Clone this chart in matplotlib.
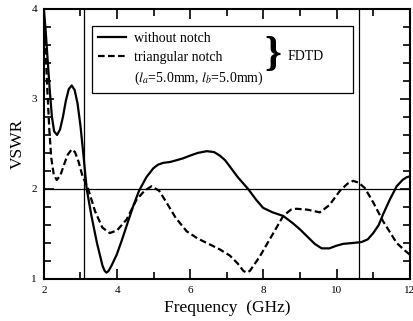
import matplotlib
matplotlib.use("Agg")
import matplotlib.pyplot as plt
from matplotlib.lines import Line2D
from matplotlib.ticker import MultipleLocator

plt.rcParams["font.family"] = ["Liberation Serif", "DejaVu Serif"]
plt.rcParams["mathtext.fontset"] = "stix"

# without notch (FDTD)
freq_solid = [2.0, 2.05, 2.1, 2.16, 2.22, 2.28, 2.36, 2.44, 2.52, 2.6, 2.68, 2.76, 2.84,
              2.92, 3.0, 3.08, 3.17, 3.3, 3.45, 3.6, 3.66, 3.71, 3.77, 3.85, 3.99, 4.13,
              4.26, 4.45, 4.6, 4.8, 4.99, 5.12, 5.26, 5.45, 5.63, 5.8, 5.99, 6.2, 6.45,
              6.65, 6.81, 6.95, 7.08, 7.3, 7.58, 7.8, 7.99, 8.25, 8.54, 8.8, 9.0, 9.2,
              9.4, 9.59, 9.8, 10.0, 10.18, 10.45, 10.68, 10.85, 11.0, 11.15, 11.27, 11.45,
              11.64, 11.8, 11.91, 12.0]
vswr_solid = [4.0, 3.75, 3.45, 3.1, 2.8, 2.64, 2.6, 2.66, 2.8, 2.98, 3.11, 3.15, 3.1,
              2.95, 2.7, 2.38, 2.0, 1.7, 1.4, 1.15, 1.09, 1.07, 1.09, 1.15, 1.27, 1.43,
              1.59, 1.82, 1.98, 2.13, 2.23, 2.27, 2.29, 2.3, 2.32, 2.34, 2.37, 2.4, 2.42,
              2.41, 2.37, 2.32, 2.25, 2.13, 2.0, 1.88, 1.79, 1.74, 1.7, 1.62, 1.55, 1.47,
              1.39, 1.34, 1.34, 1.37, 1.39, 1.4, 1.41, 1.44, 1.51, 1.6, 1.72, 1.88, 2.03,
              2.1, 2.13, 2.14]

# triangular notch (FDTD)
freq_dash = [2.0, 2.05, 2.1, 2.15, 2.2, 2.27, 2.35, 2.45, 2.55, 2.65, 2.76, 2.85, 2.95,
             3.05, 3.21, 3.4, 3.6, 3.8, 4.0, 4.26, 4.53, 4.75, 4.94, 5.15, 5.35, 5.6, 5.9,
             6.2, 6.45, 6.8, 7.08, 7.3, 7.45, 7.54, 7.63, 7.9, 8.17, 8.54, 8.75, 8.9, 9.2,
             9.54, 9.8, 10.09, 10.3, 10.45, 10.6, 10.77, 11.0, 11.27, 11.64, 11.85, 12.0]
vswr_dash = [3.9, 3.5, 3.05, 2.65, 2.35, 2.16, 2.1, 2.15, 2.27, 2.38, 2.44, 2.41, 2.3,
             2.15, 2.0, 1.75, 1.57, 1.51, 1.54, 1.66, 1.88, 1.98, 2.03, 1.98, 1.85, 1.68,
             1.53, 1.45, 1.40, 1.33, 1.26, 1.17, 1.09, 1.07, 1.09, 1.25, 1.44, 1.7, 1.77,
             1.78, 1.77, 1.74, 1.82, 1.98, 2.06, 2.09, 2.07, 2.01, 1.85, 1.64, 1.40,
             1.32, 1.27]

band_edges = [3.1, 10.6]

fig = plt.figure(figsize=(4.14, 3.21), dpi=100)
ax = fig.add_axes([0.106, 0.131, 0.884, 0.841])

ax.plot(freq_solid, vswr_solid, color="black", lw=1.6, label="without notch")
ax.plot(freq_dash, vswr_dash, color="black", lw=1.6, linestyle=(0, (3, 1.5)),
        label="triangular notch")
for f in band_edges:
    ax.axvline(f, color="black", lw=0.9)
ax.axhline(2, color="black", lw=0.9)

ax.set_xlim(2, 12)
ax.set_ylim(1, 4)
ax.xaxis.set_major_locator(MultipleLocator(2))
ax.xaxis.set_minor_locator(MultipleLocator(1))
ax.yaxis.set_major_locator(MultipleLocator(1))
ax.yaxis.set_minor_locator(MultipleLocator(0.2))
ax.tick_params(which="both", direction="in", top=True, right=True, labelsize=8, pad=5,
               width=1.2)
ax.tick_params(which="major", length=7)
ax.tick_params(which="minor", length=5)
for s in ax.spines.values():
    s.set_linewidth(1.5)

ax.set_xlabel("Frequency  (GHz)", fontsize=12.5, labelpad=4)
ax.set_ylabel("VSWR", fontsize=12.5, labelpad=4)

handles = [Line2D([], [], color="black", lw=1.6),
           Line2D([], [], color="black", lw=1.6, linestyle=(0, (3, 1.5))),
           Line2D([], [], color="none")]
labels = ["without notch", "triangular notch", r"($l_a$=5.0mm, $l_b$=5.0mm)"]
leg = ax.legend(handles, labels, loc="upper left", bbox_to_anchor=(0.131, 0.694, 0.713, 0.244),
                mode="expand", borderaxespad=0, fontsize=10, fancybox=False,
                edgecolor="black", framealpha=1, handlelength=2.0, handletextpad=0.6,
                labelspacing=0.42, borderpad=0.45)
leg.get_frame().set_linewidth(0.9)

ax.text(0.626, 0.83, "}", transform=ax.transAxes, fontsize=31, fontweight="bold",
        ha="center", va="center", zorder=10)
ax.text(0.666, 0.823, "FDTD", transform=ax.transAxes, fontsize=10, ha="left", va="center",
        zorder=10)

fig.savefig("out.png", dpi=100)
